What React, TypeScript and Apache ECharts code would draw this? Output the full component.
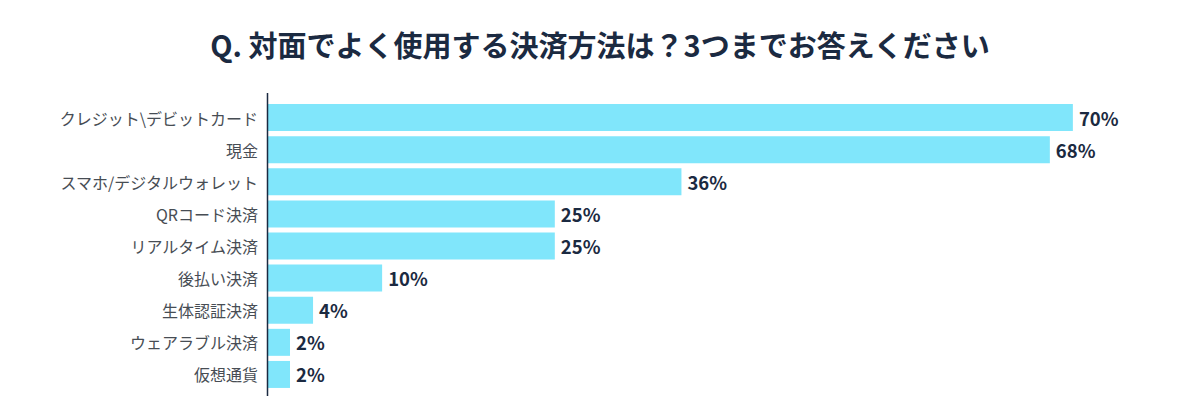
import React, { useEffect, useRef } from "react";
import * as echarts from "echarts";

const categories = [
  "クレジット\\デビットカード",
  "現金",
  "スマホ/デジタルウォレット",
  "QRコード決済",
  "リアルタイム決済",
  "後払い決済",
  "生体認証決済",
  "ウェアラブル決済",
  "仮想通貨",
];
const values = [70, 68, 36, 25, 25, 10, 4, 2, 2];
const titleText = "Q. 対面でよく使用する決済方法は？3つまでお答えください";

const FONT = "'Noto Sans CJK JP', 'Noto Sans', sans-serif";

export default function App() {
  const ref = useRef<HTMLDivElement>(null);
  useEffect(() => {
    if (!ref.current) return;
    const chart = echarts.init(ref.current, null, { renderer: "svg" });
    chart.setOption({
      animation: false,
      backgroundColor: "#ffffff",
      title: {
        text: titleText,
        left: "center",
        top: 24,
        textStyle: {
          fontFamily: FONT,
          fontSize: 29,
          fontWeight: "bold",
          color: "#1b2a41",
        },
      },
      grid: { left: 267, top: 101.5, height: 289, right: 12, containLabel: false },
      xAxis: {
        type: "value",
        min: 0,
        max: 80,
        show: false,
      },
      yAxis: {
        type: "category",
        data: categories,
        inverse: true,
        axisLine: { show: false },
        axisTick: { show: false },
        axisLabel: {
          margin: 9,
          fontFamily: FONT,
          fontSize: 16,
          color: "#474d54",
        },
      },
      graphic: [
        {
          type: "line",
          shape: { x1: 267.5, y1: 93, x2: 267.5, y2: 396 },
          style: { stroke: "#1b2a41", lineWidth: 1.5 },
          z: 10,
        },
      ],
      series: [
        {
          type: "bar",
          data: values,
          barWidth: 27,
          itemStyle: { color: "#80e6fb" },
          label: {
            show: true,
            position: "right",
            distance: 6,
            formatter: "{c}%",
            fontFamily: FONT,
            fontSize: 18.5,
            fontWeight: "bold",
            color: "#1b2a41",
          },
        },
      ],
    });
    return () => chart.dispose();
  }, []);
  return <div ref={ref} style={{ width: 1200, height: 419, margin: -8 }} />;
}
